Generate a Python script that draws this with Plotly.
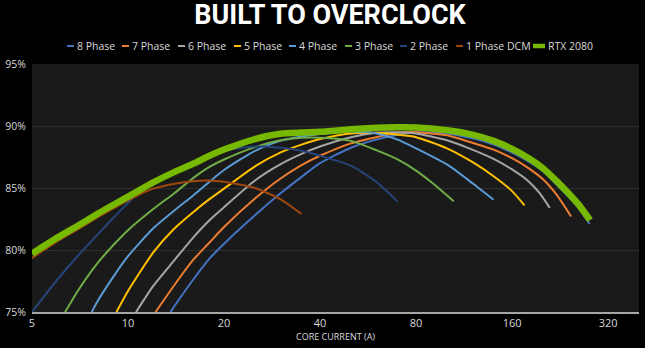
import math
import plotly.graph_objects as go

# ---- data: efficiency (%) vs core current (A) ----
series_names = ["8 Phase", "7 Phase", "6 Phase", "5 Phase", "4 Phase",
                "3 Phase", "2 Phase", "1 Phase DCM", "RTX 2080"]
series_colors = ["#4472C4", "#ED7D31", "#A5A5A5", "#FFC000", "#5B9BD5",
                 "#70AD47", "#264478", "#9E480E", "#76B900"]

phase8_amps = [13.6, 14, 16, 18, 20, 25, 30, 35, 40, 50, 60, 70, 80, 100, 120, 140, 160, 180, 200, 220, 240, 260, 280]
phase8_eff = [75.0, 75.5, 77.6, 79.3, 80.5, 82.8, 84.55, 85.9, 87.0, 88.25, 88.9, 89.3, 89.5, 89.4, 89.0, 88.5, 87.85, 87.15, 86.35, 85.3, 84.3, 83.3, 82.1]

phase7_amps = [12.2, 14, 16, 18, 20, 25, 30, 35, 40, 50, 60, 70, 80, 100, 120, 140, 160, 180, 200, 220, 245]
phase7_eff = [75.0, 77.2, 79.2, 80.6, 81.85, 84.15, 85.75, 86.85, 87.6, 88.6, 89.1, 89.45, 89.5, 89.25, 88.65, 88.1, 87.4, 86.6, 85.7, 84.5, 82.7]

phase6_amps = [10.6, 12, 14, 16, 18, 20, 25, 30, 35, 40, 50, 60, 70, 80, 100, 120, 140, 160, 180, 195, 210]
phase6_eff = [75.0, 77.1, 79.2, 81.0, 82.4, 83.45, 85.6, 86.9, 87.75, 88.35, 89.1, 89.45, 89.5, 89.4, 88.85, 88.1, 87.35, 86.5, 85.55, 84.6, 83.4]

phase5_amps = [9.2, 10, 12, 14, 16, 18, 20, 25, 30, 35, 40, 50, 60, 70, 80, 100, 120, 140, 160, 175]
phase5_eff = [75.0, 76.7, 79.8, 81.75, 83.05, 84.1, 84.95, 86.75, 87.85, 88.5, 88.95, 89.4, 89.45, 89.3, 89.1, 88.2, 87.1, 85.95, 84.75, 83.6]

phase4_amps = [7.7, 8, 9, 10, 12, 14, 16, 18, 20, 25, 30, 35, 40, 50, 60, 70, 80, 100, 120, 140]
phase4_eff = [75.0, 75.8, 77.85, 79.5, 81.75, 83.2, 84.4, 85.5, 86.45, 88.0, 88.8, 89.15, 89.35, 89.55, 89.4, 88.9, 88.2, 86.9, 85.4, 84.05]

phase3_amps = [6.35, 7, 8, 9, 10, 12, 14, 16, 18, 20, 25, 30, 35, 40, 50, 60, 70, 80, 90, 105]
phase3_eff = [75.0, 76.8, 78.9, 80.4, 81.6, 83.3, 84.6, 85.8, 86.7, 87.3, 88.3, 88.85, 89.05, 89.05, 88.8, 88.05, 87.3, 86.4, 85.4, 83.93]

phase2_amps = [5, 6, 7, 8, 9, 10, 11, 12, 14, 16, 18, 20, 25, 30, 35, 40, 50, 60, 70]
phase2_eff = [75.0, 77.6, 79.6, 81.2, 82.6, 83.8, 84.85, 85.5, 86.2, 86.9, 87.6, 88.0, 88.35, 88.25, 88.0, 87.6, 86.8, 85.5, 83.9]

phase1_amps = [5, 6, 7, 8, 9, 10, 11, 12, 14, 16, 18, 20, 25, 30, 35]
phase1_eff = [79.35, 80.7, 81.7, 82.6, 83.35, 84.0, 84.55, 84.95, 85.35, 85.55, 85.6, 85.5, 85.0, 84.1, 82.9]

rtx_amps = [5, 6, 7, 8, 9, 10, 12, 14, 16, 18, 20, 25, 30, 35, 40, 50, 60, 70, 80, 100, 120, 140, 160, 180, 200, 220, 240, 260, 281]
rtx_eff = [79.7, 81.0, 82.0, 82.9, 83.65, 84.3, 85.45, 86.3, 86.95, 87.6, 88.1, 88.95, 89.38, 89.47, 89.53, 89.73, 89.85, 89.9, 89.88, 89.65, 89.3, 88.8, 88.15, 87.42, 86.6, 85.6, 84.6, 83.6, 82.4]

x_ticks = [5, 10, 20, 40, 80, 160, 320]
y_ticks = [75, 80, 85, 90, 95]

series_amps = [phase8_amps, phase7_amps, phase6_amps, phase5_amps, phase4_amps,
               phase3_amps, phase2_amps, phase1_amps, rtx_amps]
series_eff = [phase8_eff, phase7_eff, phase6_eff, phase5_eff, phase4_eff,
              phase3_eff, phase2_eff, phase1_eff, rtx_eff]

# ---- figure geometry (pixels) ----
W, H = 645, 348
ML, MR, MT, MB = 32, 6, 64, 36
PW, PH = W - ML - MR, H - MT - MB

TEXT = "#d9d9d9"
FONT = "Open Sans"

fig = go.Figure()
for name, color, xs, ys in zip(series_names, series_colors, series_amps, series_eff):
    thick = name == "RTX 2080"
    fig.add_trace(go.Scatter(
        x=xs, y=ys, name=name, mode="lines",
        line=dict(color=color, width=6.5 if thick else 2, shape="spline", smoothing=0.6),
        hoverinfo="skip",
    ))

# hand-built compact legend row above the plot
legend_left_px = [67, 122, 178, 234, 289, 345, 400, 456, 533]
legend_row_px = 46


def px_to_paper_x(px):
    return (px - ML) / PW


legend_y = (H - MB - legend_row_px) / PH
shapes = []
annotations = []
for name, color, left in zip(series_names, series_colors, legend_left_px):
    thick = name == "RTX 2080"
    sw = 12 if thick else 7
    shapes.append(dict(
        type="line", xref="paper", yref="paper",
        x0=px_to_paper_x(left), x1=px_to_paper_x(left + sw),
        y0=legend_y, y1=legend_y,
        line=dict(color=color, width=4.5 if thick else 2),
    ))
    annotations.append(dict(
        text=name, xref="paper", yref="paper",
        x=px_to_paper_x(left + sw + 1), y=legend_y,
        xanchor="left", yanchor="middle", showarrow=False,
        font=dict(family=FONT, size=10.5, color=TEXT),
    ))

fig.update_layout(
    width=W, height=H,
    margin=dict(l=ML, r=MR, t=MT, b=MB),
    paper_bgcolor="#000000",
    plot_bgcolor="#1a1a1a",
    showlegend=False,
    title=dict(
        text="BUILT TO OVERCLOCK",
        x=330 / W, xanchor="center",
        y=1 - 15 / H, yanchor="middle",
        font=dict(family="Roboto", size=27, color="#ffffff", weight="bold"),
    ),
    xaxis=dict(
        type="log",
        range=[math.log10(5), math.log10(400)],
        tickvals=x_ticks,
        ticktext=[str(v) for v in x_ticks],
        showgrid=False, zeroline=False,
        showline=True, linecolor="#a6a6a6", linewidth=2,
        ticks="",
        tickfont=dict(family=FONT, size=11, color=TEXT),
        title=dict(text="CORE CURRENT (A)", standoff=2,
                   font=dict(family=FONT, size=9, color=TEXT)),
    ),
    yaxis=dict(
        range=[75, 95],
        tickvals=y_ticks,
        ticktext=[f"{v}%" for v in y_ticks],
        showgrid=True, gridcolor="#2e2e2e", gridwidth=1,
        zeroline=False, showline=False, ticks="",
        ticklabelstandoff=5,
        tickfont=dict(family=FONT, size=10.5, color=TEXT),
    ),
    shapes=shapes,
    annotations=annotations,
)

fig.write_html("out.html")
